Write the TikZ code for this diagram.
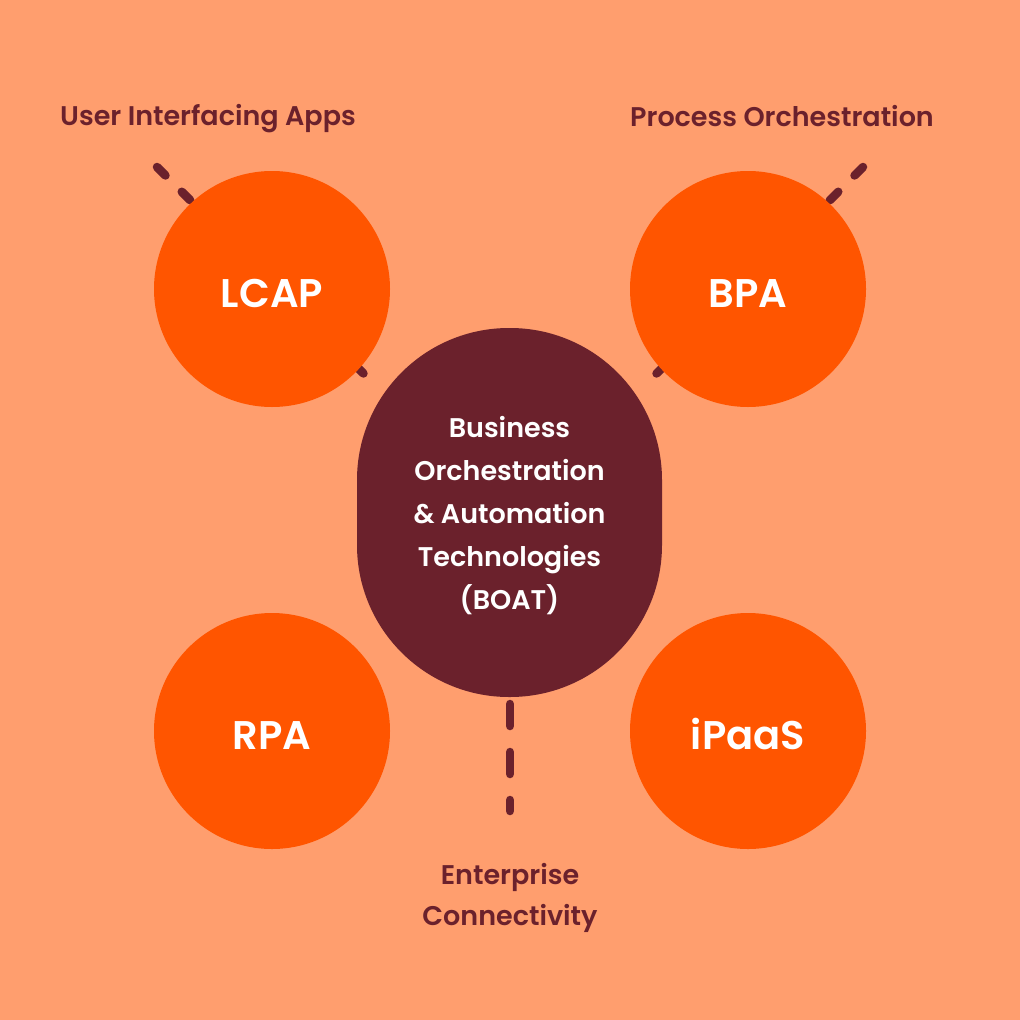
\documentclass[tikz,border=0pt]{standalone}
\usepackage{fontspec}
\setmainfont{Poppins}[BoldFont={Poppins SemiBold}]
\definecolor{bgc}{HTML}{FF9E6E}
\definecolor{orangec}{HTML}{FF5500}
\definecolor{maroonc}{HTML}{6B212C}
\begin{document}
\begin{tikzpicture}[x=1pt,y=-1pt,
  bubble/.style={circle,fill=orangec,minimum size=236pt,inner sep=0pt,text=white,
    font=\bfseries\fontsize{40}{48}\selectfont, text height=37pt},
  boatnode/.style={rectangle,fill=maroonc,minimum width=305pt,minimum height=369pt,
    rounded corners=152pt,inner sep=0pt,text=white,align=center,
    font=\bfseries\fontsize{27}{43}\selectfont},
  lbl/.style={text=maroonc,inner sep=0pt,align=center,
    font=\bfseries\fontsize{27}{41}\selectfont},
  dashline/.style={draw=maroonc,line width=8.5pt,line cap=round}
]
\fill[bgc] (0,0) rectangle (1020,1020);
\useasboundingbox (0,0) rectangle (1020,1020);

% connector coordinates
\coordinate (lcapA) at (157,167);
\coordinate (lcapB) at (367,377);
\coordinate (bpaA) at (863,167);
\coordinate (bpaB) at (653,377);
\coordinate (entA) at (510,704);
\coordinate (entB) at (510,811);

\draw[dashline,dash pattern=on 12pt off 23pt] (lcapA) -- (lcapB);
\draw[dashline,dash pattern=on 12pt off 23pt] (bpaA) -- (bpaB);
\draw[dashline,dash pattern=on 22pt off 26pt] (entA) -- (entB);

% bubbles
\node[bubble] (lcap) at (272,289) {LCAP};
\node[bubble] (bpa) at (748,289) {BPA};
\node[bubble] (rpa) at (272,731) {RPA};
\node[bubble] (ipaas) at (748,731) {iPaaS};

% center
\node[boatnode] (boat) at (509.5,512.5) {};
\node[text=white,align=center,inner sep=0pt,font=\bfseries\fontsize{27}{43}\selectfont]
  (boattext) at (509.5,515.5) {Business\\Orchestration\\\& Automation\\Technologies\\(BOAT)};

% labels
\node[lbl] (ua) at (208,119) {User Interfacing Apps};
\node[lbl] (po) at (782,116) {Process Orchestration};
\node[lbl] (ec) at (510,898) {Enterprise\\Connectivity};
\end{tikzpicture}
\end{document}
